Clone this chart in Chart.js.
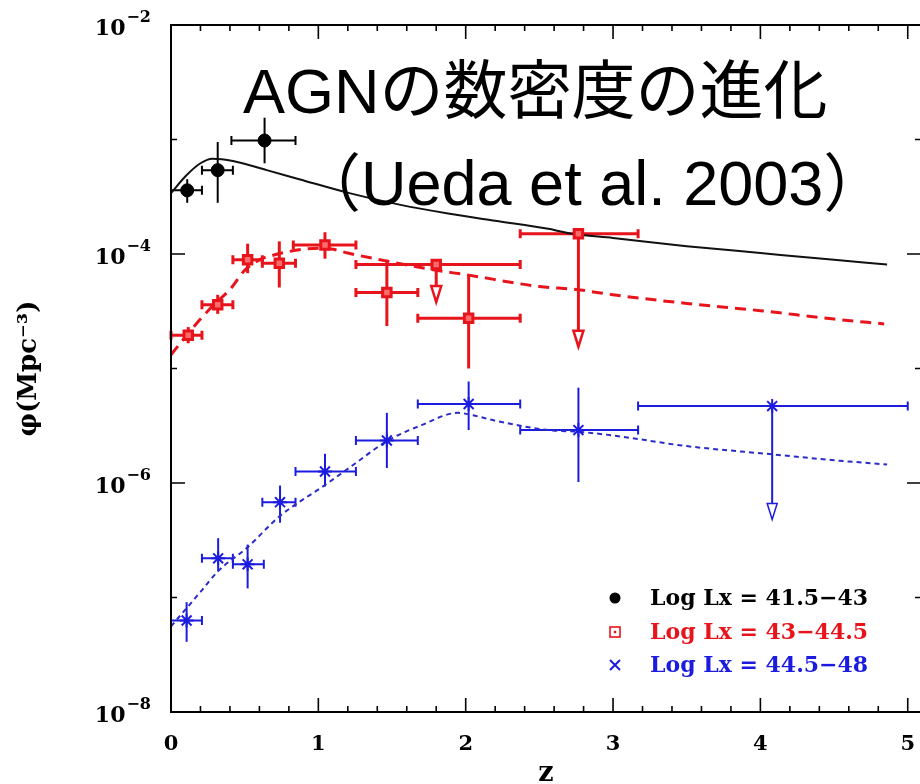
<!DOCTYPE html>
<html><head><meta charset="utf-8">
<script src="https://cdn.jsdelivr.net/npm/chart.js@4.4.1/dist/chart.umd.min.js"></script>
<style>
html,body{margin:0;padding:0;background:#fff;overflow:hidden;}
#wrap{position:relative;width:920px;height:784px;overflow:hidden;background:#fff;}
#c{position:absolute;left:0;top:0;}
.ttl{position:absolute;font-family:"Liberation Sans",Arial,sans-serif;font-size:63px;line-height:63px;color:#000;white-space:nowrap;}
.jp{font-family:"Noto Sans CJK JP",sans-serif;font-size:64px;}
.jpp{font-family:"Noto Sans CJK JP",sans-serif;}
</style></head>
<body>
<div id="wrap">
<canvas id="c" width="940" height="790"></canvas>
<div class="ttl" style="left:243px;top:54px;">AGN<span class="jp">の数密度の進化</span></div>
<div class="ttl" style="left:298px;top:146px;"><span class="jpp">（</span>Ueda et al. 2003<span class="jpp">）</span></div>
</div>
<script>
// ---------- data ----------
// Log Lx = 41.5-43 (black)
const blackZ      = [0.11, 0.317, 0.635];
const blackPhi    = [3.6e-4, 5.4e-4, 9.8e-4];
const blackZLo    = [0.0, 0.21, 0.41];
const blackZHi    = [0.21, 0.42, 0.845];
const blackPhiLo  = [2.8e-4, 2.8e-4, 6.2e-4];
const blackPhiHi  = [4.5e-4, 9.5e-4, 1.55e-3];
const blackUpper  = [false, false, false];

// Log Lx = 43-44.5 (red)
const redZ     = [0.117, 0.317, 0.52, 0.735, 1.045, 1.465, 1.80, 2.02, 2.765];
const redPhi   = [1.95e-5, 3.6e-5, 8.9e-5, 8.3e-5, 1.2e-4, 4.6e-5, 8.1e-5, 2.75e-5, 1.5e-4];
const redZLo   = [0.0, 0.21, 0.42, 0.62, 0.83, 1.255, 1.255, 1.675, 2.37];
const redZHi   = [0.21, 0.42, 0.62, 0.845, 1.255, 1.675, 2.37, 2.37, 3.17];
const redPhiLo = [1.66e-5, 3.0e-5, 6.8e-5, 5.1e-5, 9.1e-5, 2.35e-5, 3.8e-5, 1.0e-5, 1.55e-5];
const redPhiHi = [2.3e-5, 4.4e-5, 1.23e-4, 1.29e-4, 1.55e-4, 8.9e-5, 8.1e-5, 6.6e-5, 1.5e-4];
const redUpper = [false, false, false, false, false, false, true, false, true];

// Log Lx = 44.5-48 (blue)
const blueZ     = [0.106, 0.32, 0.52, 0.74, 1.045, 1.465, 2.02, 2.765, 4.08];
const bluePhi   = [6.3e-8, 2.2e-7, 1.95e-7, 6.8e-7, 1.26e-6, 2.35e-6, 4.9e-6, 2.9e-6, 4.7e-6];
const blueZLo   = [0.0, 0.21, 0.42, 0.62, 0.845, 1.255, 1.675, 2.37, 3.17];
const blueZHi   = [0.21, 0.42, 0.63, 0.845, 1.255, 1.675, 2.37, 3.17, 5.0];
const bluePhiLo = [4.1e-8, 1.7e-7, 1.2e-7, 4.5e-7, 9.3e-7, 1.35e-6, 2.9e-6, 1.02e-6, 4.8e-7];
const bluePhiHi = [9.1e-8, 3.3e-7, 2.9e-7, 9.5e-7, 1.8e-6, 4.1e-6, 7.7e-6, 6.8e-6, 4.7e-6];
const blueUpper = [false, false, false, false, false, false, false, false, true];

// model curves
const blackCurveZ   = [0, 0.1, 0.2, 0.28, 0.42, 0.65, 0.87, 1.21, 1.55, 1.88, 2.2, 2.56, 2.71, 3.0, 3.5, 4.0, 4.5, 4.86];
const blackCurvePhi = [3.4e-4, 4.8e-4, 6.2e-4, 6.8e-4, 6.5e-4, 5.4e-4, 4.5e-4, 3.4e-4, 2.7e-4, 2.26e-4, 1.95e-4, 1.66e-4, 1.51e-4, 1.38e-4, 1.17e-4, 1.02e-4, 8.9e-5, 8.1e-5];
const redCurveZ     = [0, 0.1, 0.2, 0.3, 0.4, 0.5, 0.6, 0.7, 0.8, 0.9, 1.0, 1.1, 1.2, 1.5, 1.8, 2.0, 2.5, 2.75, 3.0, 3.5, 4.0, 4.5, 4.84];
const redCurvePhi   = [1.32e-5, 1.9e-5, 2.7e-5, 3.7e-5, 4.9e-5, 7.2e-5, 8.9e-5, 9.8e-5, 1.05e-4, 1.1e-4, 1.12e-4, 1.1e-4, 1.02e-4, 8.5e-5, 7.2e-5, 6.6e-5, 5.2e-5, 4.9e-5, 4.4e-5, 3.7e-5, 3.2e-5, 2.7e-5, 2.45e-5];
const blueCurveZ    = [0, 0.1, 0.2, 0.32, 0.52, 0.735, 1.04, 1.25, 1.46, 1.7, 1.95, 2.05, 2.2, 2.56, 2.77, 3.0, 3.5, 4.08, 4.5, 4.86];
const blueCurvePhi  = [5.6e-8, 7.9e-8, 1.12e-7, 1.7e-7, 2.75e-7, 5.1e-7, 9.5e-7, 1.48e-6, 2.3e-6, 3.2e-6, 4.1e-6, 3.9e-6, 3.5e-6, 2.9e-6, 2.8e-6, 2.6e-6, 2.1e-6, 1.78e-6, 1.58e-6, 1.45e-6];

// axes / ticks / legend text
const xTickValues   = [0, 1, 2, 3, 4, 5];
const xMinorValues  = [0.2,0.4,0.6,0.8,1.2,1.4,1.6,1.8,2.2,2.4,2.6,2.8,3.2,3.4,3.6,3.8,4.2,4.4,4.6,4.8];
const yDecades      = [-8, -7, -6, -5, -4, -3, -2];
const yLabelDecades = [-8, -6, -4, -2];
const legendLabels  = ['Log Lx = 41.5\u221243', 'Log Lx = 43\u221244.5', 'Log Lx = 44.5\u221248'];
const yTitle = '\u03c6(Mpc\u207b\u00b3)';
const xTitle = 'z';

const BLACK = '#000000', RED = '#e8141c', BLUE = '#1c1ce0', BLUE_CURVE = '#2b2bc8';

function zip(xs, ys){ return xs.map((x,i)=>({x:x, y:ys[i]})); }
function errs(zlo,zhi,plo,phi,up){ return zlo.map((v,i)=>({xLo:v,xHi:zhi[i],yLo:plo[i],yHi:phi[i],upper:up[i]})); }

const errorBarPlugin = {
  id:'errorBars',
  beforeDatasetsDraw(chart){
    const ctx = chart.ctx, xs = chart.scales.x, ys = chart.scales.y;
    chart.data.datasets.forEach((ds)=>{
      if(!ds.errors) return;
      ctx.save();
      ctx.strokeStyle = ds.errColor; ctx.lineWidth = ds.errWidth; ctx.lineCap='butt';
      ds.data.forEach((p,i)=>{
        const e = ds.errors[i];
        const px = xs.getPixelForValue(p.x), py = ys.getPixelForValue(p.y);
        const x1 = xs.getPixelForValue(e.xLo), x2 = xs.getPixelForValue(e.xHi);
        ctx.beginPath(); ctx.moveTo(x1,py); ctx.lineTo(x2,py);
        ctx.moveTo(x1,py-4.5); ctx.lineTo(x1,py+4.5);
        ctx.moveTo(x2,py-4.5); ctx.lineTo(x2,py+4.5);
        ctx.stroke();
        const yHi = ys.getPixelForValue(e.yHi), yLo = ys.getPixelForValue(e.yLo);
        if(e.upper){
          const head = 16, hw = 5;
          ctx.beginPath(); ctx.moveTo(px,py); ctx.lineTo(px,yLo-head); ctx.stroke();
          ctx.beginPath(); ctx.moveTo(px-hw,yLo-head); ctx.lineTo(px+hw,yLo-head); ctx.lineTo(px,yLo); ctx.closePath();
          ctx.fillStyle='#fff'; ctx.fill(); ctx.lineWidth = Math.max(1.5, ds.errWidth-0.5); ctx.stroke();
          ctx.lineWidth = ds.errWidth;
        } else {
          ctx.beginPath(); ctx.moveTo(px,yHi); ctx.lineTo(px,yLo); ctx.stroke();
        }
      });
      ctx.restore();
    });
  }
};

const framePlugin = {
  id:'frame',
  afterDraw(chart){
    const ctx = chart.ctx, xs = chart.scales.x, ys = chart.scales.y, a = chart.chartArea;
    ctx.save();
    ctx.strokeStyle = '#000'; ctx.lineWidth = 2;
    ctx.beginPath();
    ctx.moveTo(a.left, a.top); ctx.lineTo(a.right, a.top);
    ctx.moveTo(a.left, a.top-1); ctx.lineTo(a.left, a.bottom+1);
    ctx.moveTo(a.left-1, a.bottom); ctx.lineTo(a.right, a.bottom);
    ctx.moveTo(a.right, a.top); ctx.lineTo(a.right, a.bottom);
    ctx.stroke();
    ctx.lineWidth = 1.6;
    ctx.beginPath();
    xTickValues.concat(xMinorValues).forEach(v=>{
      const px = xs.getPixelForValue(v);
      const L = xTickValues.includes(v) ? 14 : 6;
      ctx.moveTo(px, a.bottom); ctx.lineTo(px, a.bottom-L);
      ctx.moveTo(px, a.top); ctx.lineTo(px, a.top+L);
    });
    yDecades.forEach(d=>{
      const py = ys.getPixelForValue(Math.pow(10,d));
      const L = yLabelDecades.includes(d) ? 14 : 6;
      ctx.moveTo(a.left, py); ctx.lineTo(a.left+L, py);
      ctx.moveTo(a.right, py); ctx.lineTo(a.right-L, py);
    });
    ctx.stroke();
    // y tick labels 10^n
    ctx.fillStyle = '#000';
    yLabelDecades.forEach(d=>{
      const py = ys.getPixelForValue(Math.pow(10,d));
      const sup = '\u2212' + String(-d);
      ctx.font = "bold 16px 'DejaVu Serif'";
      ctx.textAlign = 'right'; ctx.textBaseline = 'middle';
      const rx = a.left - 20;
      ctx.fillText(sup, rx, py - 7);
      const sw = ctx.measureText(sup).width;
      ctx.font = "bold 22px 'DejaVu Serif'";
      ctx.fillText('10', rx - sw - 1, py + 4);
    });
    // legend
    const lx = 615, tx = 650, ly = [598, 632, 665];
    const colors = [BLACK, RED, BLUE];
    ctx.fillStyle = BLACK; ctx.beginPath(); ctx.arc(lx, ly[0], 5.5, 0, Math.PI*2); ctx.fill();
    ctx.strokeStyle = RED; ctx.lineWidth = 1.6; ctx.strokeRect(lx-5, ly[1]-5, 10, 10);
    ctx.fillStyle = RED; ctx.fillRect(lx-1.2, ly[1]-1.2, 2.4, 2.4);
    ctx.strokeStyle = BLUE; ctx.lineWidth = 2; ctx.beginPath();
    ctx.moveTo(lx-5, ly[2]-5); ctx.lineTo(lx+5, ly[2]+5); ctx.moveTo(lx+5, ly[2]-5); ctx.lineTo(lx-5, ly[2]+5); ctx.stroke();
    ctx.font = "bold 22px 'DejaVu Serif'"; ctx.textAlign='left'; ctx.textBaseline='middle';
    legendLabels.forEach((t,i)=>{ ctx.fillStyle = colors[i]; ctx.fillText(t, tx, ly[i]+1); });
    ctx.restore();
  }
};

const chart = new Chart(document.getElementById('c'), {
  type: 'scatter',
  data: { datasets: [
    { label:'black points', data: zip(blackZ, blackPhi), errors: errs(blackZLo,blackZHi,blackPhiLo,blackPhiHi,blackUpper),
      errColor: BLACK, errWidth: 2, pointStyle:'circle', pointRadius:6.5, backgroundColor:BLACK, borderColor:BLACK, borderWidth:1, order:1 },
    { label:'red points', data: zip(redZ, redPhi), errors: errs(redZLo,redZHi,redPhiLo,redPhiHi,redUpper),
      errColor: RED, errWidth: 3, pointStyle:'rect', pointRadius:6, backgroundColor:'#ff6a6a', borderColor:RED, borderWidth:3, order:1 },
    { label:'blue points', data: zip(blueZ, bluePhi), errors: errs(blueZLo,blueZHi,bluePhiLo,bluePhiHi,blueUpper),
      errColor: BLUE, errWidth: 2, pointStyle:'star', pointRadius:7, backgroundColor:BLUE, borderColor:BLUE, borderWidth:2, order:1 },
    { label:'black model', data: zip(blackCurveZ, blackCurvePhi), showLine:true, pointRadius:0, borderColor:'#111', borderWidth:2,
      cubicInterpolationMode:'monotone', order:2 },
    { label:'red model', data: zip(redCurveZ, redCurvePhi), showLine:true, pointRadius:0, borderColor:RED, borderWidth:3, borderDash:[11,7],
      cubicInterpolationMode:'monotone', order:2 },
    { label:'blue model', data: zip(blueCurveZ, blueCurvePhi), showLine:true, pointRadius:0, borderColor:BLUE_CURVE, borderWidth:2, borderDash:[5,4],
      cubicInterpolationMode:'monotone', order:2 }
  ]},
  options: {
    responsive:false, devicePixelRatio:1, animation:false,
    layout:{ padding:{ left:0, right:19, top:25, bottom:0 } },
    plugins:{ legend:{display:false}, tooltip:{enabled:false} },
    scales:{
      x:{ type:'linear', min:0, max:5.09,
        afterBuildTicks(s){ s.ticks = xTickValues.map(v=>({value:v})); },
        afterFit(s){ s.height = 78; },
        grid:{display:false}, border:{display:false},
        ticks:{ autoSkip:false, maxRotation:0, padding:12, color:'#000',
          font:{family:'DejaVu Serif', weight:'bold', size:21}, callback:(v)=>String(v) },
        title:{ display:true, text:xTitle, color:'#000', font:{family:'DejaVu Serif', weight:'bold', size:27}, padding:{top:0,bottom:0} }
      },
      y:{ type:'logarithmic', min:1e-8, max:1e-2,
        afterBuildTicks(s){ s.ticks = yDecades.map(d=>({value:Math.pow(10,d)})); },
        afterFit(s){ s.width = 171; },
        grid:{display:false}, border:{display:false},
        ticks:{ display:false },
        title:{ display:true, text:yTitle, color:'#000', font:{family:'DejaVu Serif', weight:'bold', size:26}, padding:{top:14,bottom:0} }
      }
    }
  },
  plugins:[errorBarPlugin, framePlugin]
});
</script>
</body></html>
